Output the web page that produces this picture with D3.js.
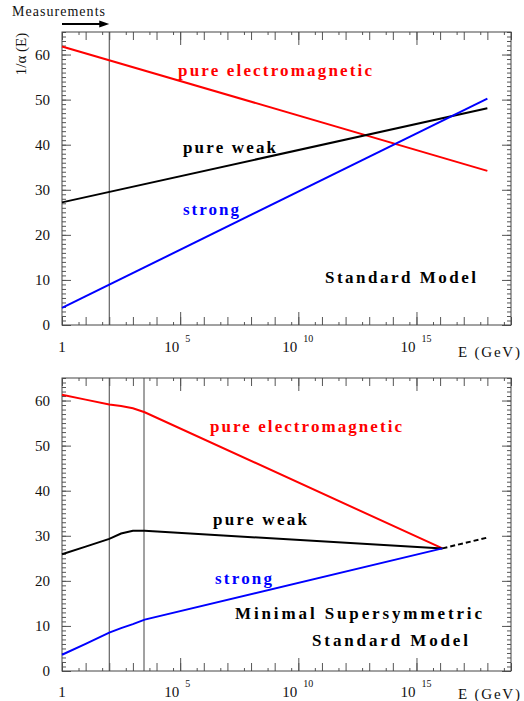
<!DOCTYPE html>
<html>
<head>
<meta charset="utf-8">
<script src="https://cdn.jsdelivr.net/npm/d3@7"></script>
<style>
  body { margin: 0; background: #fff; }
  svg text { font-family: "Liberation Serif", "Times New Roman", Times, "DejaVu Serif", serif; }
</style>
</head>
<body>
<div class="content"></div>
<script>
(function () {
    // log10(E / GeV)
    let topLogE = [0, 18];
    let topEm = [61.8, 34.2];
    let topWeak = [27.2, 48.1];
    let topStrong = [3.8, 50.2];

    let susyLogE = [0, 1, 2, 2.5, 3, 3.5, 16.1];
    let susyEm = [61.3, 60.2, 59.1, 58.8, 58.3, 57.4, 27.2];
    let susyWeak = [25.9, 27.6, 29.3, 30.5, 31.1, 31.1, 27.2];
    let susyStrong = [3.6, 6.0, 8.5, 9.5, 10.4, 11.4, 27.2];

    let unifLogE = [16.1, 18];
    let unifVal = [27.2, 29.6];

    let measureTop = [2];
    let measureSusy = [2, 3.47];

    let yTicks = [0, 10, 20, 30, 40, 50, 60];
    let xLabelTicks = [0, 5, 10, 15];

    let width = 524, height = 701;
    let margin = {left: 62, right: 13};
    let serif = '"Liberation Serif", "Times New Roman", Times, "DejaVu Serif", serif';

    let svg = d3.select('.content').append('svg')
        .attr('width', width)
        .attr('height', height);

    let xScale = d3.scaleLinear().domain([0, 19]).range([margin.left, width - margin.right]);

    let line = function (yScale) {
        return d3.line()
            .x(function (d) { return xScale(d[0]); })
            .y(function (d) { return yScale(d[1]); });
    };

    function txt(g) {
        return g.append('text').attr('font-family', serif);
    }

    function label(g, s, x, y, w, color) {
        txt(g)
            .attr('x', x)
            .attr('y', y)
            .attr('fill', color)
            .attr('font-size', 17)
            .attr('font-weight', 'bold')
            .attr('textLength', w)
            .attr('lengthAdjust', 'spacing')
            .text(s);
    }

    // одна панель: рамка, оси, подписи
    function buildPanel(top, bottom, measures, labOff, eOff) {
        let g = svg.append('g');
        let yScale = d3.scaleLinear().domain([0, 65]).range([bottom, top]);

        // вертикальные линии измерений
        measures.forEach(function (m) {
            g.append('line')
                .attr('x1', xScale(m)).attr('x2', xScale(m))
                .attr('y1', top).attr('y2', bottom)
                .attr('stroke', '#444').attr('stroke-width', 1);
        });

        let minorY = d3.range(0, 66, 1);
        let axes = [
            [d3.axisLeft(yScale).tickValues(minorY).tickSize(-4), margin.left, 0],
            [d3.axisLeft(yScale).tickValues(yTicks).tickSize(-9), margin.left, 0],
            [d3.axisRight(yScale).tickValues(minorY).tickSize(-4), width - margin.right, 0],
            [d3.axisRight(yScale).tickValues(yTicks).tickSize(-9), width - margin.right, 0]
        ];
        let decades = d3.range(0, 20, 1);
        let halfDec = d3.range(0, 19, 1).map(function (d) { return d + Math.log10(5); });
        axes.push([d3.axisBottom(xScale).tickValues(decades).tickSize(-8), 0, bottom]);
        axes.push([d3.axisBottom(xScale).tickValues(halfDec).tickSize(-3), 0, bottom]);
        axes.push([d3.axisBottom(xScale).tickValues([5, 10, 15]).tickSize(-13), 0, bottom]);
        axes.push([d3.axisTop(xScale).tickValues(decades).tickSize(-8), 0, top]);
        axes.push([d3.axisTop(xScale).tickValues(halfDec).tickSize(-3), 0, top]);
        axes.push([d3.axisTop(xScale).tickValues([5, 10, 15]).tickSize(-13), 0, top]);

        axes.forEach(function (a) {
            let ax = g.append('g')
                .attr('transform', 'translate(' + a[1] + ',' + a[2] + ')')
                .call(a[0].tickFormat('').tickSizeOuter(0));
            ax.select('.domain').remove();
            ax.selectAll('line').attr('stroke', '#555');
        });

        g.append('rect')
            .attr('x', margin.left).attr('y', top)
            .attr('width', xScale(19) - margin.left).attr('height', bottom - top)
            .attr('fill', 'none').attr('stroke', '#444').attr('stroke-width', 1);

        // подписи оси Y
        yTicks.forEach(function (d) {
            txt(g)
                .attr('x', 50)
                .attr('y', yScale(d) + 5)
                .attr('text-anchor', 'end')
                .attr('font-size', 15)
                .attr('fill', '#111')
                .text(d);
        });

        // подписи оси X
        xLabelTicks.forEach(function (d) {
            let t = txt(g)
                .attr('y', bottom + labOff)
                .attr('font-size', 15)
                .attr('fill', '#111');
            if (d === 0) {
                t.attr('x', xScale(0)).attr('text-anchor', 'middle').text('1');
            } else {
                t.attr('x', xScale(d) - 1).attr('text-anchor', 'end').text('10');
                txt(g)
                    .attr('x', xScale(d) + 5)
                    .attr('y', bottom + labOff - 10)
                    .attr('font-size', 10)
                    .attr('fill', '#111')
                    .text(d);
            }
        });
        txt(g)
            .attr('x', width - margin.right + 9)
            .attr('y', bottom + eOff)
            .attr('text-anchor', 'end')
            .attr('font-size', 15)
            .attr('fill', '#111')
            .attr('textLength', 62)
            .text('E (GeV)');

        return {g: g, y: yScale};
    }

    let p1 = buildPanel(32, 325, measureTop, 27, 32);
    let p2 = buildPanel(378, 671, measureSusy, 26, 28);

    function drawSeries(p, xs, ys, color, dash) {
        let pts = xs.map(function (x, i) { return [x, ys[i]]; });
        p.g.append('path')
            .datum(pts)
            .attr('fill', 'none')
            .attr('stroke', color)
            .attr('stroke-width', 2)
            .attr('stroke-dasharray', dash || null)
            .attr('d', line(p.y));
    }

    drawSeries(p1, topLogE, topEm, '#ff0000');
    drawSeries(p1, topLogE, topWeak, '#000000');
    drawSeries(p1, topLogE, topStrong, '#0000ff');

    drawSeries(p2, susyLogE, susyEm, '#ff0000');
    drawSeries(p2, susyLogE, susyWeak, '#000000');
    drawSeries(p2, susyLogE, susyStrong, '#0000ff');
    drawSeries(p2, unifLogE, unifVal, '#000000', '5,3');

    label(p1.g, 'pure electromagnetic', 178, 76, 194, '#ff0000');
    label(p1.g, 'pure weak', 183, 153, 93, '#000000');
    label(p1.g, 'strong', 183, 215, 56, '#0000ff');
    label(p1.g, 'Standard Model', 325, 283, 151, '#000000');

    label(p2.g, 'pure electromagnetic', 210, 432, 192, '#ff0000');
    label(p2.g, 'pure weak', 213, 525, 94, '#000000');
    label(p2.g, 'strong', 215, 584, 57, '#0000ff');
    label(p2.g, 'Minimal Supersymmetric', 235, 619, 247, '#000000');
    label(p2.g, 'Standard Model', 312, 646, 156, '#000000');

    // Measurements + стрелка
    txt(svg)
        .attr('x', 12).attr('y', 16)
        .attr('font-size', 14)
        .attr('textLength', 93)
        .attr('fill', '#111')
        .text('Measurements');
    svg.append('line')
        .attr('x1', xScale(0)).attr('x2', xScale(measureTop[0]) - 8)
        .attr('y1', 24).attr('y2', 24)
        .attr('stroke', '#000').attr('stroke-width', 2);
    let ax = xScale(measureTop[0]);
    svg.append('path')
        .attr('d', 'M' + (ax - 10) + ',20.5L' + ax + ',24L' + (ax - 10) + ',27.5Z')
        .attr('fill', '#000');

    txt(svg)
        .attr('transform', 'translate(26,54) rotate(-90)')
        .attr('text-anchor', 'middle')
        .attr('font-size', 15)
        .attr('fill', '#111')
        .text('1/\u03b1 (E)');
})();
</script>
</body>
</html>
